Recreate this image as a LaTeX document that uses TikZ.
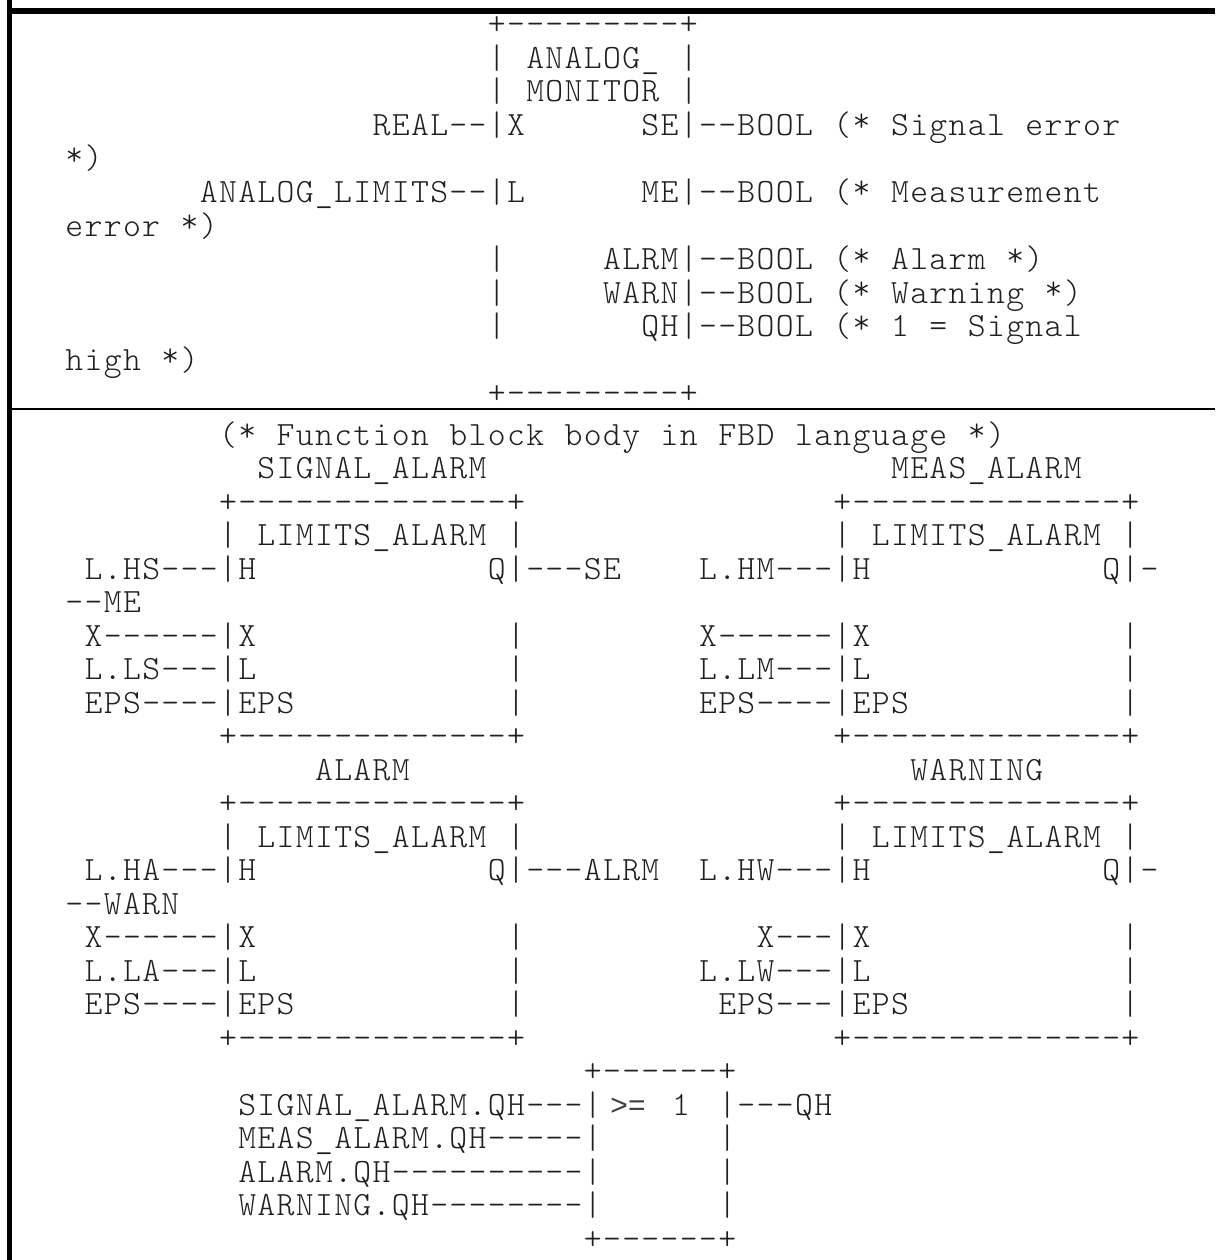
\documentclass[tikz,border=0pt]{standalone}
\usepackage{fontspec}
\setmonofont{lmmonolt10-regular}[Extension=.otf]
\newfontfamily\sansf{Liberation Sans}
\makeatletter
\def\cellsend{\cellsend}
\newcommand\cells[1]{\cells@#1\cellsend}
\def\cells@#1{\ifx#1\cellsend\else
  \ifx#1~\hbox to 19.2pt{}\else
   \ifx#1*\hbox to 19.2pt{\hss\raisebox{3.5pt}{*}\hss}\else
    \hbox to 19.2pt{\hss#1\hss}\fi\fi
  \expandafter\cells@\fi}
\makeatother
\begin{document}
\begin{tikzpicture}[x=1pt,y=-1pt,
  txt/.style={anchor=base west, inner sep=0pt, outer sep=0pt, text=black!88,
    font=\ttfamily\fontsize{34}{33.5}\selectfont},
  rule/.style={line width=#1, draw=black}]
\useasboundingbox (0,0) rectangle (1215,1260);
% borders
\coordinate (tl) at (9.5,0);
\coordinate (bl) at (9.5,1260);
\coordinate (tt0) at (7,11);
\coordinate (tt1) at (1215,11);
\coordinate (s0) at (9.5,409);
\coordinate (s1) at (1215,409);
\draw[rule=5pt] (tl) -- (bl);
\draw[rule=6pt] (tt0) -- (tt1);
\draw[rule=2.5pt] (s0) -- (s1);
\newcommand\Tx[4]{\node[txt] (#1) at ({64.8+19.2*#3},#2) {\cells{#4}};}
% ---------- top section ----------
\Tx{t1}{35}{22}{+---------+}
\Tx{t2}{68.5}{22}{|~ANALOG\_~|}
\Tx{t3}{102}{22}{|~MONITOR~|}
\Tx{t4a}{135.5}{16}{REAL--|X}
\Tx{t4b}{135.5}{30}{SE|--BOOL~(*~Signal~error}
\Tx{t5}{169}{0}{*)}
\Tx{t6a}{202.5}{7}{ANALOG\_LIMITS--|L}
\Tx{t6b}{202.5}{30}{ME|--BOOL~(*~Measurement}
\Tx{t7}{236}{0}{error~*)}
\Tx{t8a}{269.5}{22}{|}
\Tx{t8b}{269.5}{28}{ALRM|--BOOL~(*~Alarm~*)}
\Tx{t9a}{303}{22}{|}
\Tx{t9b}{303}{28}{WARN|--BOOL~(*~Warning~*)}
\Tx{t10a}{336.5}{22}{|}
\Tx{t10b}{336.5}{30}{QH|--BOOL~(*~1~=~Signal}
\Tx{t11}{370}{0}{high~*)}
\Tx{t12}{403.5}{22}{+---------+}
% ---------- lower section ----------
\Tx{l1}{445}{8}{(*~Function~block~body~in~FBD~language~*)}
\Tx{l2a}{478.5}{10}{SIGNAL\_ALARM}
\Tx{l2b}{478.5}{43}{MEAS\_ALARM}
\Tx{l3a}{512}{8}{+--------------+}
\Tx{l3b}{512}{40}{+--------------+}
\Tx{l4a}{545.5}{8}{|~LIMITS\_ALARM~|}
\Tx{l4b}{545.5}{40}{|~LIMITS\_ALARM~|}
\Tx{l5a}{579}{1}{L.HS---|H}
\Tx{l5b}{579}{22}{Q|---SE}
\Tx{l5c}{579}{33}{L.HM---|H}
\Tx{l5d}{579}{54}{Q|-}
\Tx{l6}{612.5}{0}{--ME}
\Tx{l7a}{646}{1}{X------|X}
\Tx{l7b}{646}{23}{|}
\Tx{l7c}{646}{33}{X------|X}
\Tx{l7d}{646}{55}{|}
\Tx{l8a}{679.5}{1}{L.LS---|L}
\Tx{l8b}{679.5}{23}{|}
\Tx{l8c}{679.5}{33}{L.LM---|L}
\Tx{l8d}{679.5}{55}{|}
\Tx{l9a}{713}{1}{EPS----|EPS}
\Tx{l9b}{713}{23}{|}
\Tx{l9c}{713}{33}{EPS----|EPS}
\Tx{l9d}{713}{55}{|}
\Tx{l10a}{746.5}{8}{+--------------+}
\Tx{l10b}{746.5}{40}{+--------------+}
\Tx{l11a}{780}{13}{ALARM}
\Tx{l11b}{780}{44}{WARNING}
\Tx{l12a}{813.5}{8}{+--------------+}
\Tx{l12b}{813.5}{40}{+--------------+}
\Tx{l13a}{847}{8}{|~LIMITS\_ALARM~|}
\Tx{l13b}{847}{40}{|~LIMITS\_ALARM~|}
\Tx{l14a}{880.5}{1}{L.HA---|H}
\Tx{l14b}{880.5}{22}{Q|---ALRM}
\Tx{l14c}{880.5}{33}{L.HW---|H}
\Tx{l14d}{880.5}{54}{Q|-}
\Tx{l15}{914}{0}{--WARN}
\Tx{l16a}{947.5}{1}{X------|X}
\Tx{l16b}{947.5}{23}{|}
\Tx{l16c}{947.5}{36}{X---|X}
\Tx{l16d}{947.5}{55}{|}
\Tx{l17a}{981}{1}{L.LA---|L}
\Tx{l17b}{981}{23}{|}
\Tx{l17c}{981}{33}{L.LW---|L}
\Tx{l17d}{981}{55}{|}
\Tx{l18a}{1014.5}{1}{EPS----|EPS}
\Tx{l18b}{1014.5}{23}{|}
\Tx{l18c}{1014.5}{34}{EPS---|EPS}
\Tx{l18d}{1014.5}{55}{|}
\Tx{l19a}{1048}{8}{+--------------+}
\Tx{l19b}{1048}{40}{+--------------+}
\Tx{l20}{1081.5}{27}{+------+}
\Tx{l21a}{1115}{9}{SIGNAL\_ALARM.QH---|}
\node[txt, text=black!75, font=\sansf\fontsize{30}{33.5}\selectfont, anchor=base] (ge) at (628,1115) {>=};
\Tx{l21c}{1115}{31.6}{1}
\Tx{l21d}{1115}{34}{|---QH}
\Tx{l22a}{1148.5}{9}{MEAS\_ALARM.QH-----|}
\Tx{l22b}{1148.5}{34}{|}
\Tx{l23a}{1182}{9}{ALARM.QH----------|}
\Tx{l23b}{1182}{34}{|}
\Tx{l24a}{1215.5}{9}{WARNING.QH--------|}
\Tx{l24b}{1215.5}{34}{|}
\Tx{l25}{1249}{27}{+------+}
\end{tikzpicture}
\end{document}
